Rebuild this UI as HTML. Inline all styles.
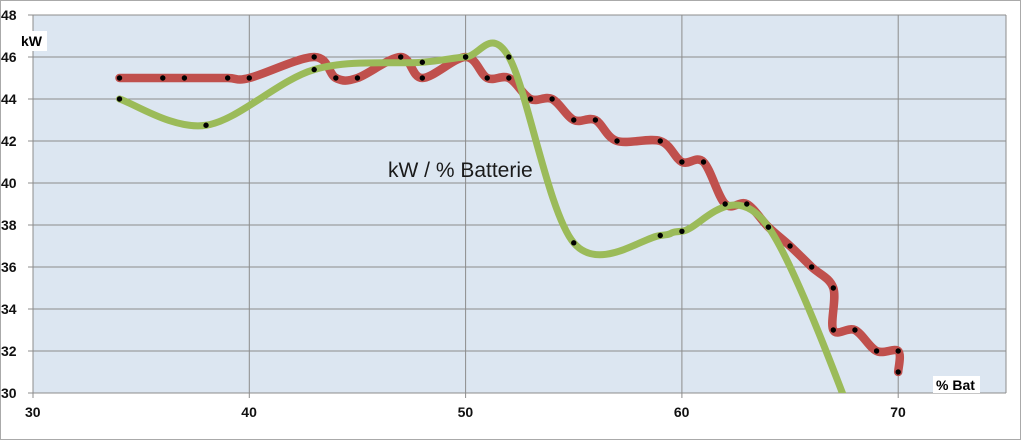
<!DOCTYPE html><html><head><style>html,body{margin:0;background:#fff;width:1023px;height:442px;overflow:hidden}svg{display:block}</style></head><body>
<svg id="s" width="1023" height="442" xmlns="http://www.w3.org/2000/svg" font-family="Liberation Sans, sans-serif">
<rect x="0.5" y="0.5" width="1020" height="439" fill="#fff" stroke="#aaa"/>
<defs><clipPath id="c"><rect x="33" y="15" width="973" height="378"/></clipPath></defs>
<rect x="33" y="15" width="973" height="378" fill="#dce6f1"/>
<g id="grid" stroke="#8c8c8c" stroke-width="1"></g>
<g id="lab" font-size="14" font-weight="bold" fill="#111"></g>
<g clip-path="url(#c)" fill="none" stroke-linecap="round" stroke-linejoin="round">
<path id="r" stroke="#c0504d" stroke-width="8.5"/>
<path id="g" stroke="#9bbb59" stroke-width="7"/>
</g>
<g id="dots" fill="#000"></g>
<text x="388" y="177" font-size="21" fill="#1a1a1a">kW / % Batterie</text>
<rect x="19" y="31" width="28" height="20" fill="#fff"/><text x="21" y="46" font-size="14" font-weight="bold">kW</text>
<rect x="933" y="376" width="47" height="17" fill="#fff"/><text x="936" y="390" font-size="14" font-weight="bold">% Bat</text>
</svg>
<script>
const X=v=>33+(v-30)*21.63, Y=v=>15+(48-v)*21;
let gs='',ls='';
for(let y=30;y<=48;y+=2){gs+=`<line x1="28" x2="1006" y1="${Y(y)}" y2="${Y(y)}"/>`;ls+=`<text x="1" y="${Y(y)+5}">${y}</text>`;}
for(let x=30;x<=70;x+=10){gs+=`<line x1="${X(x)}" x2="${X(x)}" y1="15" y2="398"/>`;ls+=`<text x="${X(x)-8}" y="417">${x}</text>`;}
gs+=`<line x1="1006" x2="1006" y1="15" y2="393"/>`;
document.getElementById('grid').innerHTML=gs;document.getElementById('lab').innerHTML=ls;
function path(p){let d=`M${X(p[0][0])},${Y(p[0][1])}`;for(let i=0;i<p.length-1;i++){const a=p[Math.max(0,i-1)],b=p[i],c=p[i+1],e=p[Math.min(p.length-1,i+2)];const t=1/6;
const c1=[X(b[0])+(X(c[0])-X(a[0]))*t,Y(b[1])+(Y(c[1])-Y(a[1]))*t],c2=[X(c[0])-(X(e[0])-X(b[0]))*t,Y(c[1])-(Y(e[1])-Y(b[1]))*t];d+=`C${c1} ${c2} ${X(c[0])},${Y(c[1])}`;}return d;}
const R=[[34,45],[36,45],[37,45],[39,45],[40,45],[43,46],[44,45],[45,45],[47,46],[48,45],[50,46],[51,45],[52,45],[53,44],[54,44],[55,43],[56,43],[57,42],[59,42],[60,41],[61,41],[62,39],[63,39],[64,37.9],[65,37],[66,36],[67,35],[67,33],[68,33],[69,32],[70,32],[70,31]];
const G=[[34,44],[38,42.75],[43,45.4],[48,45.75],[50,46],[52,46],[55,37.15],[59,37.5],[60,37.7],[64,37.9],[70,23]];
document.getElementById('r').setAttribute('d',path(R));document.getElementById('g').setAttribute('d',path(G));
let ds='';for(const p of R.concat(G)){if(p[1]>=30)ds+=`<circle cx="${X(p[0])}" cy="${Y(p[1])}" r="2.7"/>`;}
document.getElementById('dots').innerHTML=ds;
</script></body></html>
